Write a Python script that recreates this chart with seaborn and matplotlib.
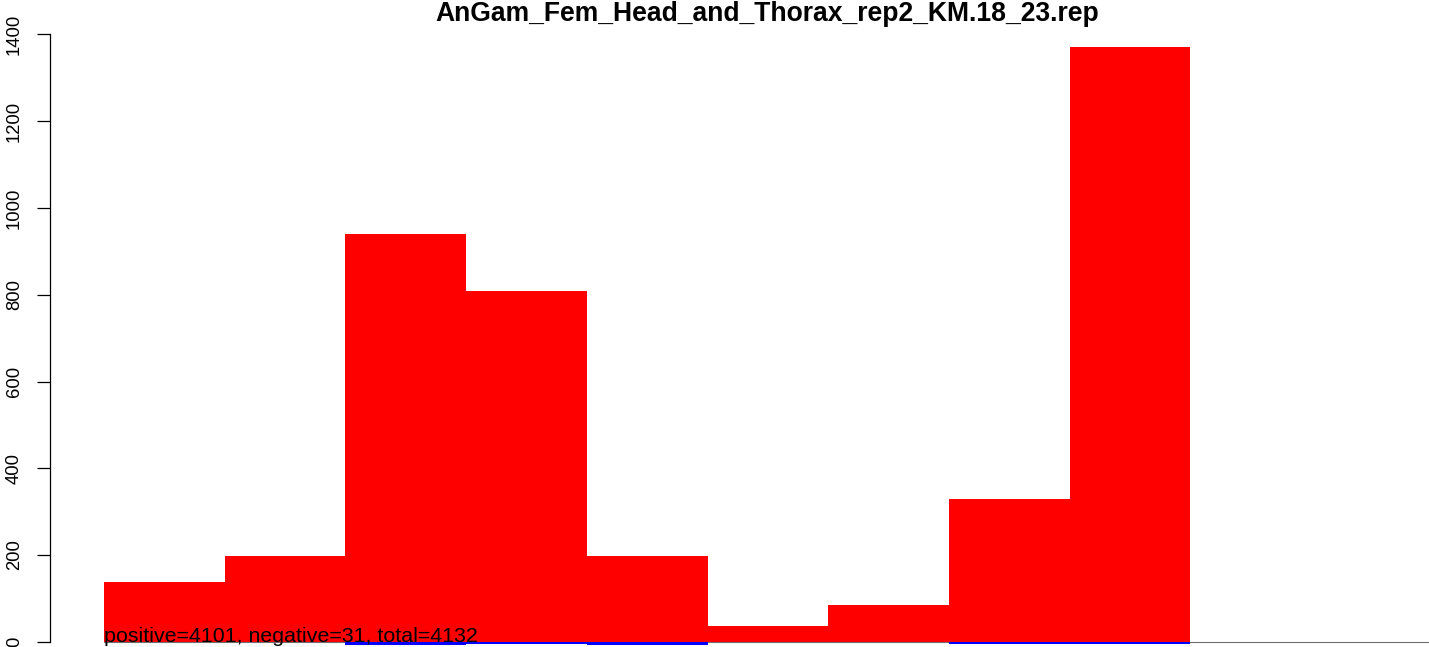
import matplotlib
matplotlib.use("Agg")
import matplotlib.pyplot as plt
import seaborn as sns
import pandas as pd

# ---- data ----
bins = ["b1", "b2", "b3", "b4", "b5", "b6", "b7", "b8", "b9", "b10", "b11"]
positive = [138, 197, 939, 808, 197, 36, 85, 329, 1372, 0, 0]
negative = [0, 0, 7, 6, 7, 1, 0, 5, 5, 0, 0]
yticks = [0, 200, 400, 600, 800, 1000, 1200, 1400]
title = "AnGam_Fem_Head_and_Thorax_rep2_KM.18_23.rep"
summary = "positive=4101, negative=31, total=4132"

sns.set_style("white")
plt.rcParams["font.family"] = ["Liberation Sans", "DejaVu Sans"]

W, H = 1429, 647
fig = plt.figure(figsize=(W / 100, H / 100), dpi=100)

# axes in pixel geometry (left 50, right 1485, top 20, bottom 645)
ax = fig.add_axes([50 / W, (H - 645) / H, (1485 - 50) / W, (645 - 20) / H])

df = pd.DataFrame({"bin": bins, "pos": positive,
                   "neg": [-v for v in negative]})

# zero line underneath the bars
ax.plot([-0.5, len(bins) - 0.5], [0, 0], color="#6e6e6e", lw=0.8, zorder=0.5)

sns.barplot(data=df, x="bin", y="pos", order=bins, color="#ff0000",
            saturation=1, width=1, linewidth=0, antialiased=False,
            ax=ax, zorder=2)
sns.barplot(data=df, x="bin", y="neg", order=bins, color="#0000ff",
            saturation=1, width=1, linewidth=0, antialiased=False,
            ax=ax, zorder=3)

# scales
unit = 120.7
ax.set_xlim(-0.5 - 54 / unit, -0.5 + (1485 - 104) / unit)
scale = 0.4338  # px per unit
ax.set_ylim(-(645 - 641.8) / scale, (641.8 - 20) / scale)

ax.set_xlabel("")
ax.set_ylabel("")
ax.set_xticks([])
ax.set_yticks(yticks)
ax.set_yticklabels([str(v) for v in yticks], rotation=90, va="center")

for s in ["top", "right", "bottom"]:
    ax.spines[s].set_visible(False)
ax.spines["left"].set_bounds(0, 1400)
ax.spines["left"].set_color("black")
ax.spines["left"].set_linewidth(0.9)
ax.tick_params(axis="y", direction="out", length=9.4, width=0.9,
               pad=10.0, labelsize=13.3, colors="black", left=True)
ax.patch.set_alpha(0)

ax.text(-0.5, -1, summary, ha="left", va="baseline", fontsize=15.4,
        color="black", clip_on=False, zorder=5)

fig.text(767.5 / W, 1 - 21 / H, title, ha="center", va="baseline",
         fontsize=19.1, fontweight="bold", color="black")

fig.savefig("out.png", dpi=100)
